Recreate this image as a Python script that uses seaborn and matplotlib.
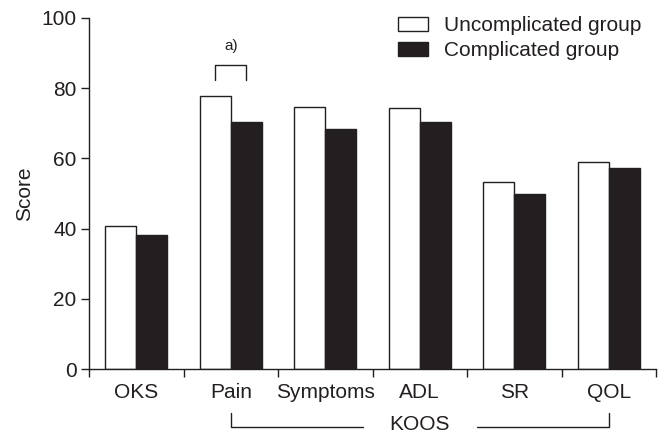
import numpy as np
import pandas as pd
import matplotlib
matplotlib.use("Agg")
import matplotlib.pyplot as plt
import seaborn as sns

# ==========================================
# 1. DATA
# ==========================================
categories = ["OKS", "Pain", "Symptoms", "ADL", "SR", "QOL"]
groups = ["Uncomplicated group", "Complicated group"]
uncomplicated = [40.7, 77.6, 74.5, 74.4, 53.2, 59.1]
complicated = [38.2, 70.2, 68.3, 70.3, 50.0, 57.3]
y_ticks = [0, 20, 40, 60, 80, 100]

df = pd.DataFrame({
    "category": categories * 2,
    "group": [groups[0]] * len(categories) + [groups[1]] * len(categories),
    "score": uncomplicated + complicated,
})

INK = "#231f20"

# ==========================================
# 2. STYLE
# ==========================================
sns.set_style("ticks")
plt.rcParams["font.family"] = ["Liberation Sans", "DejaVu Sans"]
plt.rcParams["text.color"] = INK
plt.rcParams["axes.labelcolor"] = INK
plt.rcParams["xtick.color"] = INK
plt.rcParams["ytick.color"] = INK

fig = plt.figure(figsize=(6.63, 4.33), dpi=100)
ax = fig.add_axes([89 / 663, 1 - 369.3 / 433, (656 - 89) / 663, (369.3 - 17.7) / 433])

# ==========================================
# 3. BARS
# ==========================================
sns.barplot(data=df, x="category", y="score", hue="group", order=categories,
            hue_order=groups, palette={groups[0]: "white", groups[1]: INK},
            edgecolor=INK, linewidth=1.0, width=0.656, saturation=1,
            ax=ax)

handles, labels = ax.get_legend_handles_labels()
ax.get_legend().remove()
fig.legend(handles, labels, loc="upper left", bbox_to_anchor=(398 / 663, 1 - 16 / 433),
           frameon=False, fontsize=15, handlelength=1.45, handleheight=0.68,
           handletextpad=0.75, labelspacing=0.3, borderpad=0, borderaxespad=0)

# ==========================================
# 4. AXES
# ==========================================
ax.set_xlim(-0.5, len(categories) - 0.5)
ax.set_ylim(0, 100)
ax.set_yticks(y_ticks)
ax.tick_params(axis="y", labelsize=15, length=6, width=1, pad=3)

# tick marks between categories, labels at the centers
ax.set_xticks(np.arange(len(categories) + 1) - 0.5)
ax.set_xticklabels([])
ax.tick_params(axis="x", which="major", length=6, width=1)
ax.set_xticks(np.arange(len(categories)), minor=True)
ax.set_xticklabels(categories, minor=True)
ax.tick_params(axis="x", which="minor", length=0, labelsize=15, pad=10)

ax.set_xlabel("")
ax.set_ylabel("Score", fontsize=15)
ax.yaxis.set_label_coords(-0.097, 0.5)

sns.despine(ax=ax)
for side in ["left", "bottom"]:
    ax.spines[side].set_color(INK)
    ax.spines[side].set_linewidth(1)

# ==========================================
# 5. ANNOTATIONS
# ==========================================
off = 0.656 / 4
ax.plot([1 - off, 1 - off, 1 + off, 1 + off], [82.4, 86.6, 86.6, 82.4],
        color=INK, lw=1)
ax.text(1, 90, "a)", ha="center", va="bottom", fontsize=11)

# KOOS bracket below the axis
ax.plot([1, 1, 2.4], [-12.4, -16.3, -16.3], color=INK, lw=1, clip_on=False)
ax.plot([3.61, 5, 5], [-16.3, -16.3, -12.4], color=INK, lw=1, clip_on=False)
ax.text(3.0, -17.4, "KOOS", ha="center", va="baseline", fontsize=15, clip_on=False)

fig.savefig("out.png", dpi=100)
